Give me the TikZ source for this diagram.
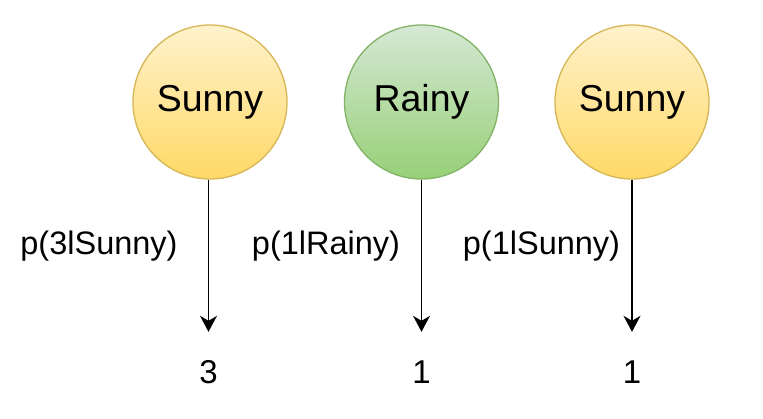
\documentclass[tikz,border=0pt]{standalone}
\usepackage{fontspec}
\setmainfont{Liberation Sans}
\usetikzlibrary{arrows.meta}
\definecolor{yTop}{HTML}{FFF2CC}
\definecolor{yBot}{HTML}{FFD966}
\definecolor{yLine}{HTML}{D6B656}
\definecolor{gTop}{HTML}{D5E8D4}
\definecolor{gBot}{HTML}{97D077}
\definecolor{gLine}{HTML}{82B366}
\tikzset{
  state/.style={circle, minimum size=154pt, inner sep=0pt, line width=1.3pt,
    font=\fontsize{37.5}{45}\selectfont},
  sunny/.style={state, draw=yLine, top color=yTop, bottom color=yBot},
  rainy/.style={state, draw=gLine, top color=gTop, bottom color=gBot},
  obs/.style={inner sep=0pt, minimum height=80pt, font=\fontsize{33}{40}\selectfont},
  prob/.style={inner sep=0pt, font=\fontsize{32.5}{39}\selectfont},
  emit/.style={line width=1.3pt, -{Stealth[length=16pt, width=17pt, inset=5pt]}}
}
\begin{document}
\begin{tikzpicture}[x=1pt, y=-1pt]
\useasboundingbox (0,0) rectangle (763,418);
\node[sunny] (s1) at (210,102) {Sunny};
\node[rainy] (s2) at (421.5,102) {Rainy};
\node[sunny] (s3) at (632,102) {Sunny};
\node[obs] (o1) at (208.5,372) {3};
\node[obs] (o2) at (421.5,372) {1};
\node[obs] (o3) at (632,372) {1};
\draw[emit] (s1.south -| o1) -- (o1.north);
\draw[emit] (s2.south) -- (o2.north);
\draw[emit] (s3.south) -- (o3.north);
\node[prob] (p1) at (99,246) {p(3lSunny)};
\node[prob] (p2) at (326,246) {p(1lRainy)};
\node[prob] (p3) at (541.5,246) {p(1lSunny)};
\end{tikzpicture}
\end{document}
